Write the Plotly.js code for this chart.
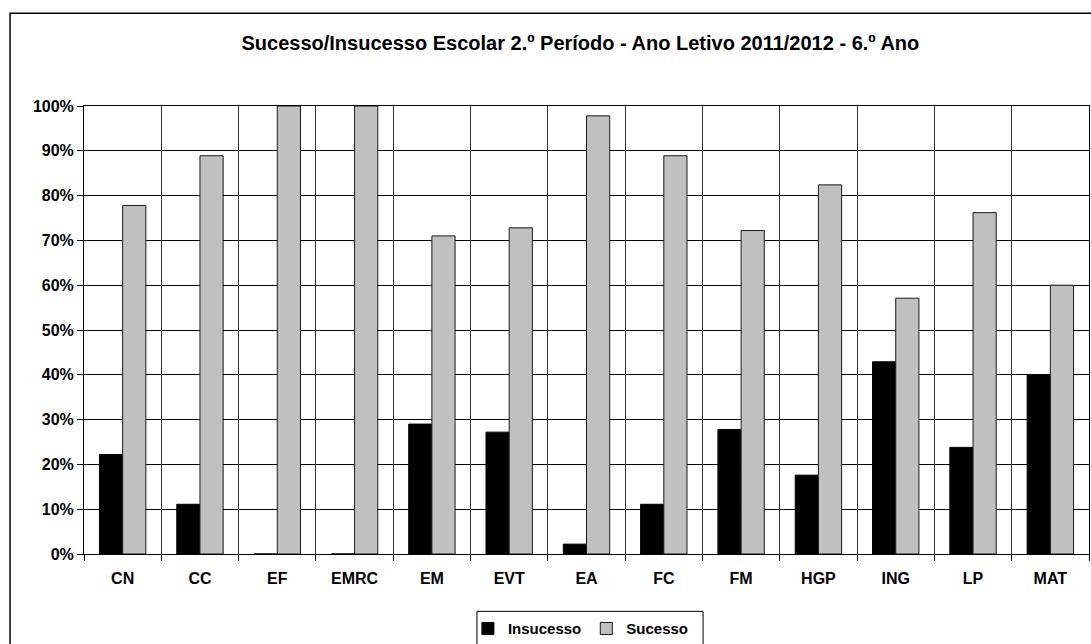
<!DOCTYPE html>
<html>
<head>
<meta charset="utf-8">
<script src="https://cdn.plot.ly/plotly-3.0.1.min.js"></script>
<style>
  html, body { margin: 0; padding: 0; background: #fff; }
  #chart { width: 1091px; height: 644px; }
</style>
</head>
<body>
<div id="chart"></div>
<script>
const categories = ["CN", "CC", "EF", "EMRC", "EM", "EVT", "EA", "FC", "FM", "HGP", "ING", "LP", "MAT"];
const insucesso = [22.2, 11.1, 0, 0, 29.0, 27.2, 2.2, 11.1, 27.8, 17.6, 42.9, 23.8, 40.0];
const sucesso   = [77.8, 88.9, 100, 100, 71.0, 72.8, 97.8, 88.9, 72.2, 82.4, 57.1, 76.2, 60.0];
const seriesNames = ["Insucesso", "Sucesso"];
const yTickValues = [0, 10, 20, 30, 40, 50, 60, 70, 80, 90, 100];
const chartTitle = "Sucesso/Insucesso Escolar 2.º Período - Ano Letivo 2011/2012 - 6.º Ano";

const FONT = '"Liberation Sans", Arial, Helvetica, sans-serif';

const traces = [
  {
    type: "bar", name: seriesNames[0], x: categories, y: insucesso,
    marker: { color: "#000000", line: { color: "#000000", width: 1 } },
    hoverinfo: "x+y"
  },
  {
    type: "bar", name: seriesNames[1], x: categories, y: sucesso,
    marker: { color: "#C0C0C0", line: { color: "#1a1a1a", width: 1 } },
    hoverinfo: "x+y"
  }
];

const layout = {
  width: 1091, height: 644,
  paper_bgcolor: "#ffffff", plot_bgcolor: "#ffffff",
  margin: { l: 84, r: 2, t: 106, b: 90, autoexpand: false },
  font: { family: FONT, color: "#000", size: 15 },
  title: {
    text: chartTitle,
    font: { family: FONT, size: 20, weight: "bold", color: "#000" },
    xref: "container", x: 0.532, xanchor: "center",
    yref: "container", y: 0.933, yanchor: "middle"
  },
  barmode: "group", bargap: 0.4, bargroupgap: 0,
  xaxis: {
    type: "category",
    tickson: "boundaries",
    ticks: "outside", ticklen: 6, tickcolor: "#000", tickwidth: 1,
    showgrid: true, gridcolor: "#333", gridwidth: 1,
    showline: true, linecolor: "#000", linewidth: 1, mirror: true,
    tickfont: { family: FONT, size: 16, weight: "bold", color: "#000" },
    ticklabelstandoff: 10,
    fixedrange: true
  },
  yaxis: {
    range: [0, 100],
    tickvals: yTickValues,
    ticktext: yTickValues.map(v => v + "%"),
    ticks: "outside", ticklen: 6, tickcolor: "#000", tickwidth: 1,
    showgrid: true, gridcolor: "#000", gridwidth: 1,
    zeroline: false,
    showline: true, linecolor: "#000", linewidth: 1, mirror: true,
    tickfont: { family: FONT, size: 16, weight: "bold", color: "#000" },
    fixedrange: true
  },
  showlegend: true,
  legend: {
    orientation: "h",
    x: 0.382, xanchor: "left",
    y: -0.13, yanchor: "top",
    bgcolor: "rgba(0,0,0,0)", borderwidth: 0,
    font: { family: FONT, size: 15, weight: "bold", color: "#000" },
    itemwidth: 30,
    traceorder: "normal"
  },
  shapes: [
    { type: "rect", xref: "paper", yref: "paper",
      x0: -0.0736, x1: 1.02, y0: -0.3, y1: 1.207,
      line: { color: "#000", width: 1.5 }, fillcolor: "rgba(0,0,0,0)", layer: "below" },
    { type: "rect", xref: "paper", yref: "paper",
      x0: 0.391, x1: 0.616, y0: -0.128, y1: -0.3,
      line: { color: "#000", width: 1 }, fillcolor: "rgba(0,0,0,0)", layer: "above" }
  ]
};

Plotly.newPlot("chart", traces, layout, { displayModeBar: false, staticPlot: true });
</script>
</body>
</html>
